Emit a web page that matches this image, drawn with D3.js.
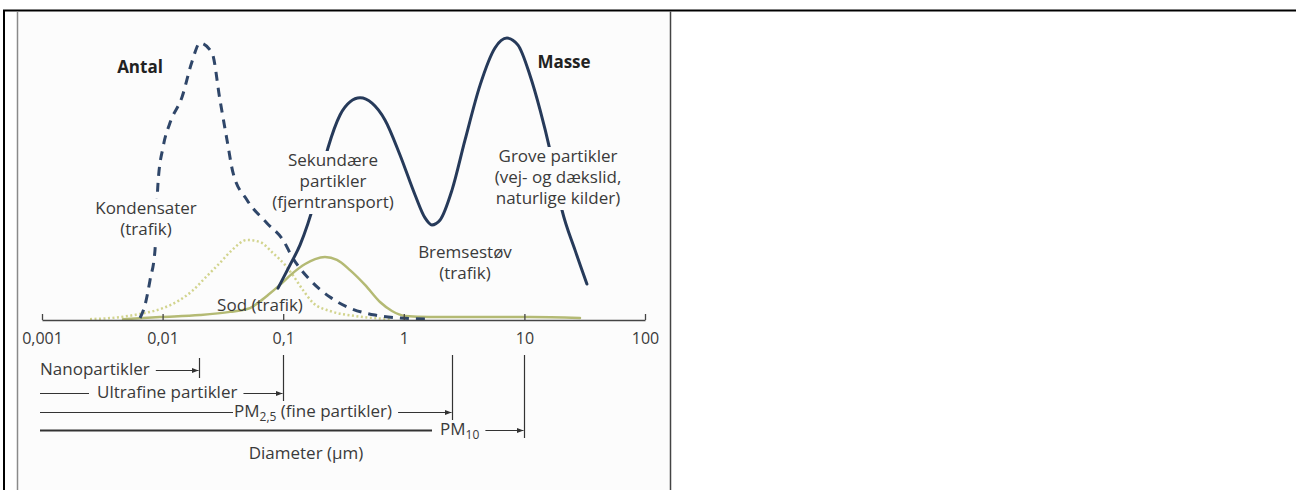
<!DOCTYPE html>
<html>
<head>
<meta charset="utf-8">
<script src="https://cdn.jsdelivr.net/npm/d3@7"></script>
<style>
  body { margin: 0; background: #fff; }
  svg { display: block; }
</style>
</head>
<body>
<div id="chart"></div>
<script>
    // diameter in µm, relative level 0-100
    var massD  = [0.0906, 0.114, 0.138, 0.184, 0.235, 0.296, 0.358, 0.434, 0.545, 0.698, 0.93, 1.24, 1.5, 1.71, 2.0, 2.51, 3.22, 4.29, 5.7, 7.17, 8.85, 11.1, 13.5, 16.3, 20.5, 26.3, 33];
    var massV  = [11, 19, 25.9, 41.4, 59.3, 70.7, 75.2, 76.6, 74.8, 69, 56.9, 43.1, 35.2, 32.8, 34.5, 44.8, 62.1, 81, 93.8, 97.2, 94.8, 84.5, 72.4, 58.6, 37.9, 24.1, 12.4];

    var antalD = [0.0065, 0.00715, 0.00787, 0.00865, 0.00916, 0.0101, 0.0115, 0.0145, 0.0175, 0.0204, 0.0257, 0.0299, 0.0342, 0.0384, 0.0501, 0.0734, 0.0996, 0.12, 0.167, 0.244, 0.358, 0.577, 0.93, 1.65];
    var antalV = [0.7, 5.2, 13.8, 24.1, 47.2, 59.7, 67.9, 76.9, 89, 95.5, 92.1, 75.9, 62.1, 50.7, 41.4, 33.4, 27.6, 21.4, 13.8, 7.9, 4.1, 1.7, 0.7, 0.3];

    var sodD   = [0.0025, 0.00443, 0.0065, 0.0101, 0.0139, 0.0179, 0.0225, 0.0299, 0.0376, 0.0501, 0.0642, 0.0822, 0.1035, 0.12, 0.146, 0.177, 0.244, 0.394, 0.769];
    var sodV   = [0.3, 1, 2.1, 4.1, 6.9, 10.3, 14.5, 19.7, 24.1, 27.6, 26.9, 23.1, 19, 15.5, 10.3, 5.9, 3.1, 1.4, 0.3];

    var bremsD = [0.0047, 0.0095, 0.0204, 0.0362, 0.053, 0.0618, 0.0748, 0.094, 0.118, 0.152, 0.184, 0.222, 0.279, 0.358, 0.477, 0.635, 0.798, 1.02, 1.65, 4.29, 11.1, 28.9];
    var bremsV = [0.3, 1, 1.7, 2.8, 4.1, 5.9, 8.6, 12.1, 15.9, 19.3, 21, 21.7, 20.7, 17.2, 12.1, 6.2, 3.1, 1.4, 1, 1, 1, 0.7];

    var tickValues = [0.001, 0.01, 0.1, 1, 10, 100];
    var tickLabels = ["0,001", "0,01", "0,1", "1", "10", "100"];

    var sizeNames  = ["Nanopartikler", "Ultrafine partikler", "PM|2,5| (fine partikler)", "PM|10|"];
    var sizeLimits = [0.02, 0.1, 2.5, 10];

    var width = 1296;
    var height = 490;
    var font = "'Open Sans', 'DejaVu Sans', sans-serif";
    var bg = "#fcfcfc";
    var ink = "#3a3a3a";

    var x = d3.scaleLog().domain([0.001, 100]).range([42, 645]);
    var y = d3.scaleLinear().domain([0, 100]).range([320, 30]);

    var svg = d3.select("#chart")
                .append("svg")
                .attr("width", width)
                .attr("height", height)
                .style("font-family", font);

    // table cell frame round the figure
    svg.append("rect").attr("x", 18).attr("y", 12).attr("width", 652).attr("height", height - 12).attr("fill", bg);
    svg.append("line").attr("x1", 3).attr("x2", width).attr("y1", 10.5).attr("y2", 10.5).attr("stroke", "#000").attr("stroke-width", 2);
    svg.append("line").attr("x1", 4).attr("x2", 4).attr("y1", 10).attr("y2", height).attr("stroke", "#000").attr("stroke-width", 2);
    svg.append("line").attr("x1", 17.5).attr("x2", 17.5).attr("y1", 11.5).attr("y2", height).attr("stroke", "#8a8a8a").attr("stroke-width", 1.5);
    svg.append("line").attr("x1", 670.5).attr("x2", 670.5).attr("y1", 11.5).attr("y2", height).attr("stroke", "#444").attr("stroke-width", 1.5);

    var line = d3.line()
                 .x(function(d) { return x(d[0]); })
                 .y(function(d) { return y(d[1]); })
                 .curve(d3.curveMonotoneX);

    var drawcurve = function(xs, vs, colour, w, dash) {
        var pts = xs.map(function(v, i) { return [v, vs[i]]; });
        svg.append("path")
           .attr("d", line(pts))
           .attr("fill", "none")
           .attr("stroke", colour)
           .attr("stroke-width", w)
           .attr("stroke-dasharray", dash)
           .attr("stroke-linecap", dash ? "butt" : "round");
    }

    drawcurve(sodD, sodV, "#d2d48e", 2.5, "2,2.5");
    drawcurve(bremsD, bremsV, "#b4ba74", 2.5, null);
    drawcurve(antalD, antalV, "#2f4669", 3, "9,7");
    drawcurve(massD, massV, "#263a5a", 3, null);

    // label, one text per line, optional knock-out box behind each line
    var addlabel = function(cx, by, lines, bold, knock) {
        lines.forEach(function(s, i) {
            var g = svg.append("g");
            var t = g.append("text")
                     .attr("x", cx).attr("y", by + i * 21)
                     .attr("text-anchor", "middle")
                     .attr("font-size", 17)
                     .attr("font-weight", bold ? "bold" : "normal")
                     .attr("fill", bold ? "#222" : ink)
                     .text(s);
            if (knock) {
                var w = t.node().getComputedTextLength();
                g.insert("rect", "text")
                 .attr("x", cx - w / 2 - 3).attr("y", by + i * 21 - 15)
                 .attr("width", w + 6).attr("height", 21)
                 .attr("fill", bg);
            }
        });
    }

    addlabel(140, 73, ["Antal"], true, false);
    addlabel(564, 68, ["Masse"], true, false);
    addlabel(146, 214, ["Kondensater", "(trafik)"], false, true);
    addlabel(333, 166, ["Sekundære", "partikler", "(fjerntransport)"], false, true);
    addlabel(558, 162, ["Grove partikler", "(vej- og dækslid,", "naturlige kilder)"], false, true);
    addlabel(465, 258, ["Bremsestøv", "(trafik)"], false, false);
    addlabel(260, 311, ["Sod (trafik)"], false, false);

    // log axis, ticks pointing up
    var minors = [];
    for (var k = -3; k < 2; k++) {
        for (var m = 2; m < 10; m++) minors.push(m * Math.pow(10, k));
    }
    var axis = svg.append("g").attr("transform", "translate(0,320)");
    axis.call(d3.axisBottom(x).tickValues(minors).tickSize(-3).tickSizeOuter(0).tickFormat(""));
    axis.call(d3.axisBottom(x).tickValues(tickValues).tickSize(-6).tickSizeOuter(0).tickPadding(13)
                .tickFormat(function(d, i) { return tickLabels[i]; }));
    axis.selectAll("path, line").attr("stroke", "#444").attr("stroke-width", 1.3);
    axis.selectAll("text").attr("font-size", 16).attr("font-family", font).attr("fill", ink);

    // size class brackets under the axis
    svg.append("defs").append("marker")
       .attr("id", "head").attr("viewBox", "0 0 10 10")
       .attr("refX", 10).attr("refY", 5)
       .attr("markerWidth", 7).attr("markerHeight", 7)
       .attr("markerUnits", "userSpaceOnUse")
       .attr("orient", "auto")
       .append("path").attr("d", "M0,1L10,5L0,9z").attr("fill", "#333");

    var rowY = [370, 393, 412, 430];
    var textX = [40, 97, 234, 440];
    var barTop = [358, 355, 355, 355];

    sizeNames.forEach(function(name, i) {
        var ry = rowY[i];
        var bx = Math.round(x(sizeLimits[i])) + 0.5;
        var parts = name.split("|");
        var t = svg.append("text")
                   .attr("x", textX[i]).attr("y", ry + 5)
                   .attr("font-size", 17).attr("fill", ink);
        parts.forEach(function(p, j) {
            var ts = t.append("tspan").text(p);
            if (j == 1) ts.attr("font-size", 12).attr("dy", 4);
            if (j == 2) ts.attr("dy", -4);
        });
        var tb = t.node().getBBox();
        if (i > 0) {
            svg.append("line").attr("x1", 40).attr("x2", textX[i] - (i == 2 ? 1 : 8))
               .attr("y1", ry + 0.5).attr("y2", ry + 0.5)
               .attr("stroke", "#333").attr("stroke-width", i == 3 ? 2 : 1.2);
        }
        svg.append("line").attr("x1", tb.x + tb.width + 6).attr("x2", bx - 1)
           .attr("y1", ry + 0.5).attr("y2", ry + 0.5)
           .attr("stroke", "#333").attr("stroke-width", 1.2)
           .attr("marker-end", "url(#head)");
        svg.append("line").attr("x1", bx).attr("x2", bx)
           .attr("y1", barTop[i]).attr("y2", ry + 8)
           .attr("stroke", "#333").attr("stroke-width", 1.2);
    });

    svg.append("text")
       .attr("x", 306).attr("y", 459)
       .attr("text-anchor", "middle")
       .attr("font-size", 17).attr("fill", ink)
       .text("Diameter (µm)");
</script>
</body>
</html>
